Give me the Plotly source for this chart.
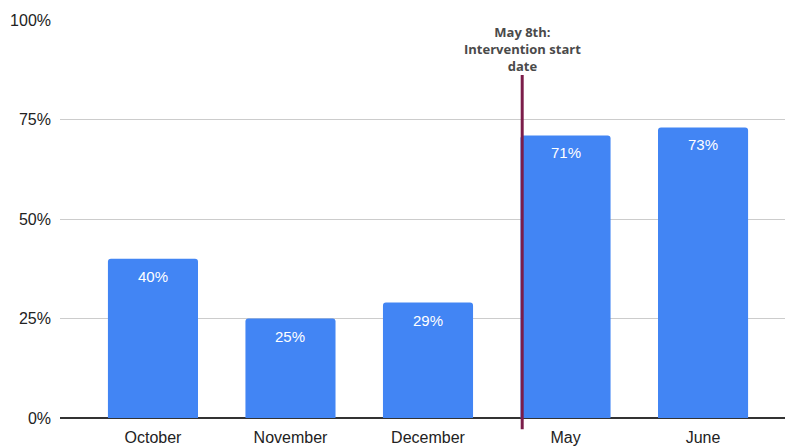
import plotly.graph_objects as go

# Share of responses per month
months = ["October", "November", "December", "May", "June"]
values = [40, 25, 29, 71, 73]
y_ticks = [0, 25, 50, 75, 100]
y_tick_labels = ["0%", "25%", "50%", "75%", "100%"]

intervention_text = "May 8th:<br>Intervention start<br>date"
intervention_pos = 2.685  # category position, just left of the May bar

fig = go.Figure()
fig.add_trace(go.Bar(
    x=list(range(len(months))),
    y=values,
    marker=dict(color="#4285f4", line=dict(width=0)),
    width=0.655,
    hoverinfo="skip",
))

# value labels just inside the top of each bar
for i, v in enumerate(values):
    fig.add_annotation(
        x=i, y=v, xref="x", yref="y",
        text=f"{v}%", showarrow=False,
        yanchor="top", yshift=-7,
        font=dict(family="Liberation Sans, Arial, sans-serif", size=15, color="white"),
    )

# intervention marker
fig.add_shape(
    type="line", xref="x", yref="paper",
    x0=intervention_pos, x1=intervention_pos,
    y0=-0.028, y1=0.862,
    line=dict(color="#7b1d4a", width=3),
)
fig.add_annotation(
    x=intervention_pos, y=0.857, xref="x", yref="paper",
    text=intervention_text, showarrow=False,
    yanchor="bottom", xanchor="center",
    font=dict(family="Open Sans, sans-serif", size=13, color="#4a4a4a", weight="bold"),
)

fig.update_layout(
    width=785, height=448,
    margin=dict(l=60, r=0, t=20, b=30),
    paper_bgcolor="white", plot_bgcolor="white",
    showlegend=False,
    barcornerradius=3,
    xaxis=dict(
        tickmode="array",
        tickvals=list(range(len(months))),
        ticktext=months,
        range=[-0.676, 4.596],
        showgrid=False, zeroline=False,
        showline=False, ticks="",
        ticklabelstandoff=8,
        tickfont=dict(family="Liberation Sans, Arial, sans-serif", size=16, color="#222222"),
    ),
    yaxis=dict(
        range=[0, 100],
        tickmode="array",
        tickvals=y_ticks,
        ticktext=y_tick_labels,
        showgrid=True, gridcolor="#cccccc", gridwidth=1,
        zeroline=True, zerolinecolor="#333333", zerolinewidth=1.5,
        ticks="", ticklabelstandoff=8,
        tickfont=dict(family="Liberation Sans, Arial, sans-serif", size=16, color="#222222"),
    ),
)

fig.write_html("out.html")
